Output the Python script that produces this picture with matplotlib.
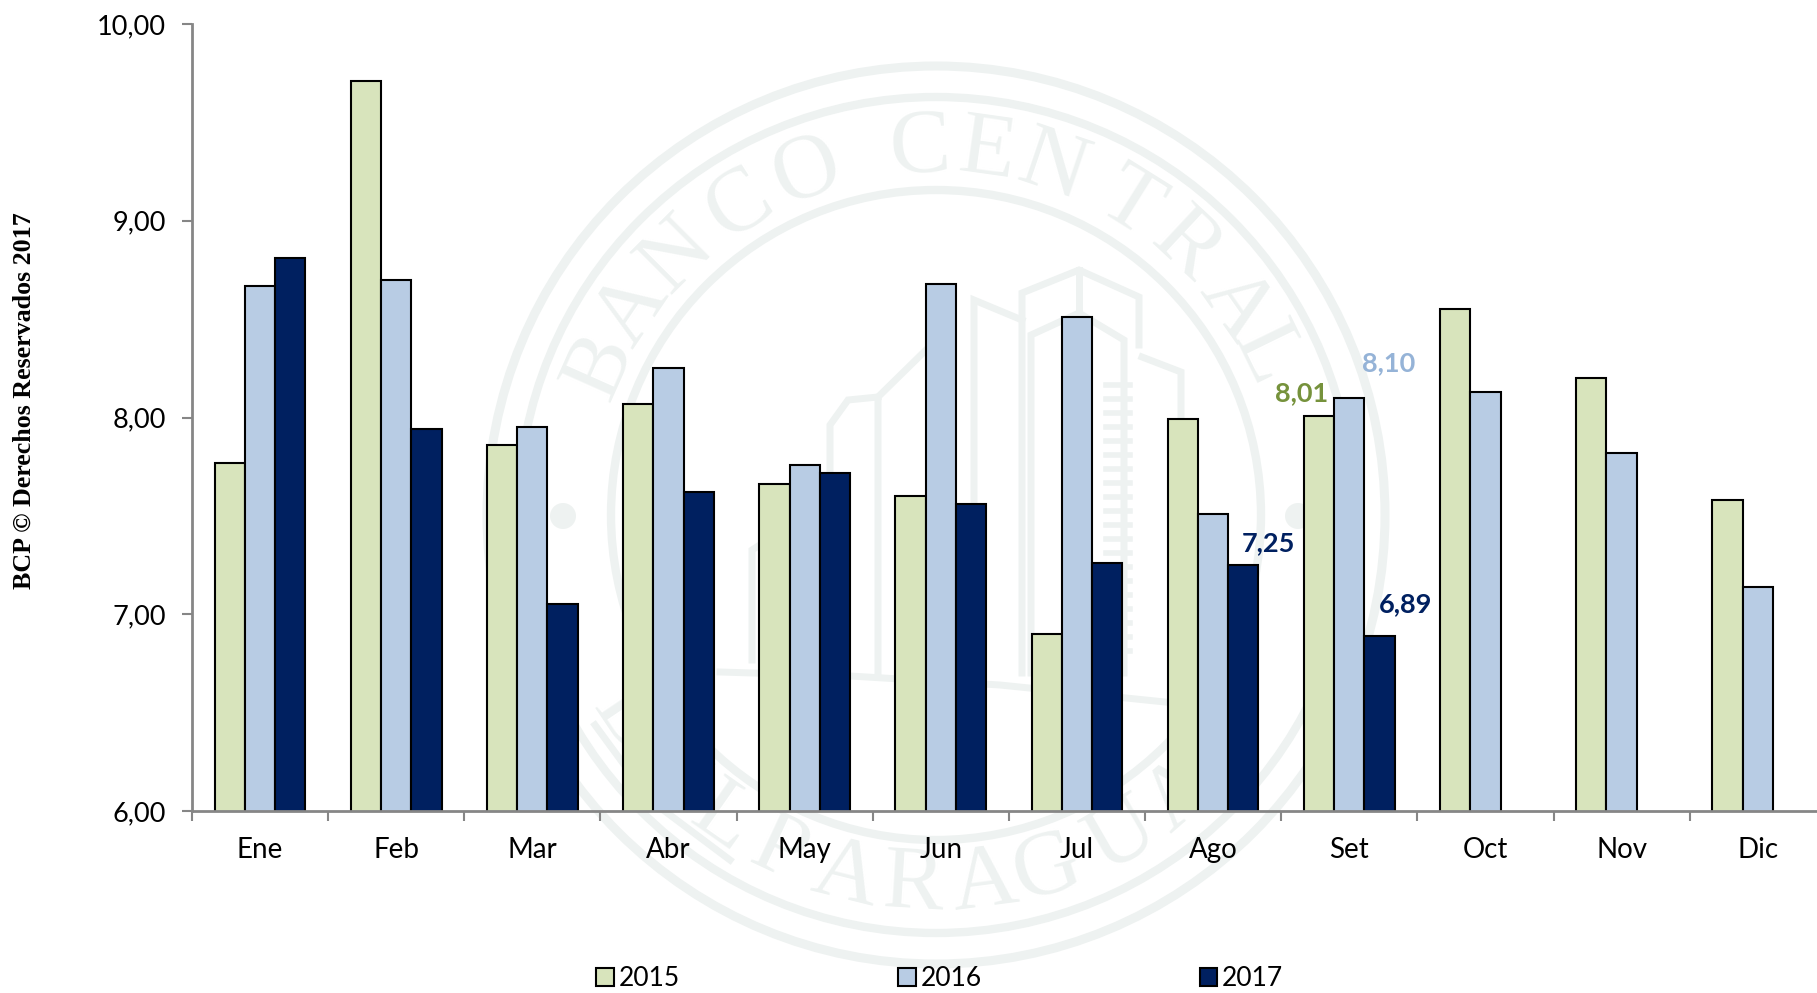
import numpy as np
import matplotlib
matplotlib.use('Agg')
import matplotlib.pyplot as plt
from matplotlib.patches import Circle
from matplotlib.ticker import FixedLocator, NullFormatter, FixedFormatter

months = ['Ene', 'Feb', 'Mar', 'Abr', 'May', 'Jun', 'Jul', 'Ago', 'Set', 'Oct', 'Nov', 'Dic']
y2015 = [7.77, 9.71, 7.86, 8.07, 7.66, 7.60, 6.90, 7.99, 8.01, 8.55, 8.20, 7.58]
y2016 = [8.67, 8.70, 7.95, 8.25, 7.76, 8.68, 8.51, 7.51, 8.10, 8.13, 7.82, 7.14]
y2017 = [8.81, 7.94, 7.05, 7.62, 7.72, 7.56, 7.26, 7.25, 6.89, np.nan, np.nan, np.nan]
y_ticks = [6, 7, 8, 9, 10]
y_labels = ['6,00', '7,00', '8,00', '9,00', '10,00']

GREEN = '#D8E4BC'
BLUE = '#B8CCE4'
NAVY = '#002060'
GREY = '#868686'
MARK = '#EEF2F1'
FONT = 'Lato'
WIDTH = 0.222


def draw_watermark(fig):
    # seal behind the chart, in pixel coordinates of the picture
    bg = fig.add_axes([0, 0, 1, 1], zorder=0)
    bg.set_xlim(0, 1817)
    bg.set_ylim(993, 0)
    bg.axis('off')
    cx, cy = 936, 515
    for r, lw in [(449, 6.5), (418, 6), (325, 6)]:
        bg.add_patch(Circle((cx, cy), r, fill=False, ec=MARK, lw=lw))
    for x in [563, 1298]:
        bg.add_patch(Circle((x, 516), 13, fc=MARK, ec='none'))

    top = 'BANCOCENTRAL'
    top_angles = [-66, -56, -45, -32.5, -20.6, -2.5, 8, 18.7, 32, 43, 55, 64]
    for ch, a in zip(top, top_angles):
        t = np.radians(a)
        bg.text(cx + 366 * np.sin(t), cy - 366 * np.cos(t), ch, rotation=-a, rotation_mode='anchor',
                ha='center', va='center', family='Liberation Serif', fontsize=66, color=MARK)
    bottom = 'DELPARAGUAY'
    bottom_angles = [-56, -45, -35, -25, -14, -3.5, 7.4, 17.3, 30, 41, 52]
    for ch, a in zip(bottom, bottom_angles):
        t = np.radians(a)
        bg.text(cx + 372 * np.sin(t), cy + 372 * np.cos(t), ch, rotation=a, rotation_mode='anchor',
                ha='center', va='center', family='Liberation Serif', fontsize=66, color=MARK)

    lines = [
        [(1022, 673), (1022, 293), (1079, 270), (1139, 297), (1139, 345)],
        [(1031, 673), (1031, 335), (1079, 313), (1124, 340), (1124, 673)],
        [(1079, 270), (1079, 313)],
        [(974, 673), (974, 300), (1022, 320)],
        [(1142, 357), (1181, 372), (1181, 600)],
        [(878, 673), (878, 397), (926, 350)],
        [(830, 520), (830, 425), (848, 400), (878, 397)],
        [(830, 500), (752, 550), (752, 660)],
        [(720, 672), (850, 676), (1000, 685), (1165, 702)],
        [(595, 725), (650, 800), (730, 860)],
    ]
    for pts in lines:
        xs, ys = zip(*pts)
        bg.plot(xs, ys, color=MARK, lw=5, solid_joinstyle='miter')
    # ladder on the side of the tower
    for yy in range(385, 665, 14):
        bg.plot([1106, 1130], [yy, yy], color=MARK, lw=4)


def make_chart():
    fig = plt.figure(figsize=(18.17, 9.93), dpi=100, facecolor='white')
    draw_watermark(fig)

    ax = fig.add_axes([192 / 1817, 1 - 811 / 993, 1625 / 1817, 787 / 993], zorder=1)
    ax.patch.set_alpha(0)
    x = np.arange(len(months))
    for off, vals, col, name in [(-WIDTH, y2015, GREEN, '2015'), (0, y2016, BLUE, '2016'), (WIDTH, y2017, NAVY, '2017')]:
        ax.bar(x + off, vals, WIDTH, color=col, edgecolor='black', linewidth=1.5, label=name, zorder=2)

    ax.set_xlim(-0.5, -0.5 + 1625 / 136.15)
    ax.set_ylim(6, 10)
    ax.set_yticks(y_ticks)
    ax.set_yticklabels(y_labels, family=FONT, fontsize=19.5, color='black')
    ax.tick_params(axis='y', length=7, width=1.5, color=GREY, pad=12)

    ax.xaxis.set_major_locator(FixedLocator(np.arange(-0.5, 11.5, 1)))
    ax.xaxis.set_major_formatter(NullFormatter())
    ax.xaxis.set_minor_locator(FixedLocator(x))
    ax.xaxis.set_minor_formatter(FixedFormatter(months))
    ax.tick_params(axis='x', which='major', length=7, width=1.5, color=GREY)
    ax.tick_params(axis='x', which='minor', length=0, pad=19, labelsize=20)
    for lab in ax.get_xticklabels(minor=True):
        lab.set_family(FONT)

    for side in ['top', 'right']:
        ax.spines[side].set_visible(False)
    for side in ['left', 'bottom']:
        ax.spines[side].set_color(GREY)
        ax.spines[side].set_linewidth(2)
        ax.spines[side].set_zorder(3)

    # the four values marked in the original
    notes = [(8 - WIDTH, y2015[8], '8,01', '#76923C', (-12.5, 16)),
             (8, y2016[8], '8,10', '#95B3D7', (28, 25)),
             (7 + WIDTH, y2017[7], '7,25', NAVY, (18, 16)),
             (8 + WIDTH, y2017[8], '6,89', NAVY, (19, 23))]
    for nx, ny, txt, col, off in notes:
        ax.annotate(txt, (nx, ny), xytext=off, textcoords='offset points', ha='center', va='center',
                    family=FONT, fontweight='bold', fontsize=19.5, color=col, zorder=4)

    fig.legend(loc='lower left', bbox_to_anchor=(578 / 1817, -0.017), ncol=3, frameon=False,
               handlelength=0.68, handleheight=0.68, handletextpad=0.18, columnspacing=8.25,
               prop={'family': FONT, 'size': 19}, borderpad=0.2)

    fig.text(24 / 1817, 1 - 401 / 993, 'BCP © Derechos Reservados 2017', rotation=90, ha='center', va='center',
             family='Liberation Serif', fontweight='bold', fontsize=18.7, color='black')

    fig.savefig('out.png', dpi=100)


if __name__ == '__main__':
    make_chart()
